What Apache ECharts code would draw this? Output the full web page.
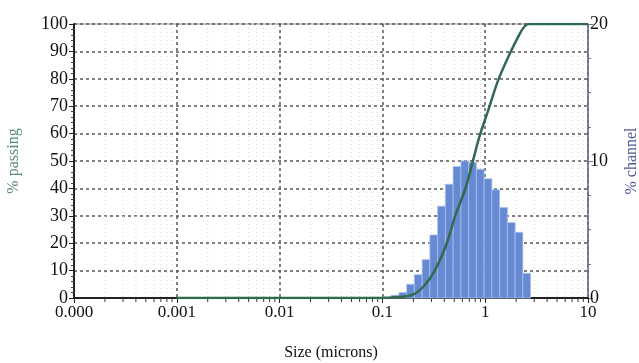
<!DOCTYPE html>
<html>
<head>
<meta charset="utf-8">
<script src="https://cdn.jsdelivr.net/npm/echarts@6/dist/echarts.min.js"></script>
<style>
  html, body { margin: 0; padding: 0; background: #fff; }
  #chart { width: 639px; height: 363px; }
</style>
</head>
<body>
<div id="chart"></div>
<script>
// histogram channels: edges in microns (one more than the values), % per channel
const binEdges = [0.1023, 0.1216, 0.1449, 0.1722, 0.2046, 0.2438, 0.2897, 0.3443, 0.4102, 0.4875,
                  0.5808, 0.6902, 0.8204, 0.9772, 1.161, 1.380, 1.644, 1.954, 2.323, 2.761];
const channelPct = [0.1, 0.2, 0.4, 1.0, 1.7, 2.8, 4.6, 6.7, 8.3, 9.6, 10.0, 9.9, 9.4, 8.7, 7.9, 6.6, 5.5, 4.8, 1.8];

// cumulative % passing curve
const passSize = [0.001, 0.104, 0.127, 0.193, 0.25, 0.325, 0.423, 0.508, 0.65, 0.755, 0.889, 1.072, 1.341, 1.742, 2.18, 2.4, 2.65, 10];
const passPct  = [0, 0, 0.2, 1.1, 4.1, 10.2, 20, 29.7, 40.6, 49.7, 59.5, 68.6, 79.6, 89.3, 96.6, 99.0, 100, 100];

const xTickLabels = ['0.000', '0.001', '0.01', '0.1', '1', '10'];

const font = 'Liberation Serif';

// minor log ticks 2..9 in every decade
const minorTicks = [];
for (let d = -4; d < 1; d++) {
    for (let k = 2; k <= 9; k++) minorTicks.push([k * Math.pow(10, d), 0]);
}

const bins = channelPct.map((v, i) => [binEdges[i], binEdges[i + 1], v]);
const curve = passSize.map((s, i) => [s, passPct[i]]);

const chart = echarts.init(document.getElementById('chart'), null, { renderer: 'canvas' });

const option = {
    animation: false,
    backgroundColor: '#fff',
    grid: {
        left: 74, right: 51, top: 24, bottom: 65,
        outerBoundsMode: 'none',
        show: true, borderColor: '#8a8a8a', borderWidth: 1, backgroundColor: 'transparent'
    },
    xAxis: {
        type: 'log',
        logBase: 10,
        min: 0.0001,
        max: 10,
        name: 'Size (microns)',
        nameLocation: 'middle',
        nameGap: 47,
        nameTextStyle: { fontFamily: font, fontSize: 16, color: '#111' },
        axisLine: { show: true, lineStyle: { color: '#222', width: 2 } },
        axisTick: { show: true, length: 5, lineStyle: { color: '#222' } },
        axisLabel: {
            fontFamily: font, fontSize: 17, color: '#111', margin: 6,
            formatter: v => xTickLabels[Math.round(Math.log10(v)) + 4]
        },
        splitLine: { show: true, lineStyle: { color: '#555', width: 1.5, type: [3, 3] } }
    },
    yAxis: [
        {
            type: 'value',
            min: 0, max: 100, interval: 10,
            name: '% passing',
            nameLocation: 'middle',
            nameRotate: 90,
            nameGap: 52,
            nameTextStyle: { fontFamily: font, fontSize: 16, color: '#5a8c72' },
            axisLine: { show: true, lineStyle: { color: '#222', width: 2 } },
            axisTick: { show: true, length: 5, lineStyle: { color: '#222' } },
            minorTick: { show: true, splitNumber: 5, length: 3, lineStyle: { color: '#444' } },
            axisLabel: { fontFamily: font, fontSize: 18, color: '#111', margin: 6 },
            splitLine: { show: true, lineStyle: { color: '#555', width: 1.5, type: [3, 3] } }
        },
        {
            type: 'value',
            min: 0, max: 20, interval: 10,
            position: 'right',
            name: '% channel',
            nameLocation: 'middle',
            nameRotate: 90,
            nameGap: 36,
            nameTextStyle: { fontFamily: font, fontSize: 16, color: '#4c5a98' },
            axisLine: { show: true, lineStyle: { color: '#6d7191', width: 1.5 } },
            axisTick: { show: true, length: 5, lineStyle: { color: '#6d7191' } },
            minorTick: { show: true, splitNumber: 4, length: 3, lineStyle: { color: '#6d7191' } },
            axisLabel: { fontFamily: font, fontSize: 18, color: '#111', margin: 2 },
            splitLine: { show: false }
        }
    ],
    series: [
        {
            // faint minor grid + ticks at 2..9 of each decade
            type: 'custom',
            silent: true,
            clip: false,
            z: 1,
            data: minorTicks,
            encode: { x: 0, y: 1 },
            renderItem: (params, api) => {
                const bot = api.coord([api.value(0), 0]);
                const top = api.coord([api.value(0), 100]);
                return {
                    type: 'group',
                    children: [
                        { type: 'line', shape: { x1: bot[0], y1: top[1], x2: bot[0], y2: bot[1] },
                          style: { stroke: '#d6d6d6', lineWidth: 1, lineDash: [1, 3] } },
                        { type: 'line', shape: { x1: bot[0], y1: bot[1], x2: bot[0], y2: bot[1] + 4 },
                          style: { stroke: '#333', lineWidth: 1 } }
                    ]
                };
            }
        },
        {
            name: '% channel',
            type: 'custom',
            yAxisIndex: 1,
            z: 2,
            data: bins,
            encode: { x: [0, 1], y: 2 },
            renderItem: (params, api) => {
                const p0 = api.coord([api.value(0), api.value(2)]);
                const p1 = api.coord([api.value(1), 0]);
                return {
                    type: 'rect',
                    shape: { x: p0[0], y: p0[1], width: p1[0] - p0[0], height: p1[1] - p0[1] },
                    style: { fill: '#6689d4', stroke: '#a9bfea', lineWidth: 0.8 }
                };
            }
        },
        {
            name: '% passing',
            type: 'line',
            yAxisIndex: 0,
            z: 3,
            data: curve,
            smooth: 0.35,
            showSymbol: false,
            lineStyle: { color: '#2f6b4c', width: 2.5 }
        }
    ]
};

chart.setOption(option);
</script>
</body>
</html>
